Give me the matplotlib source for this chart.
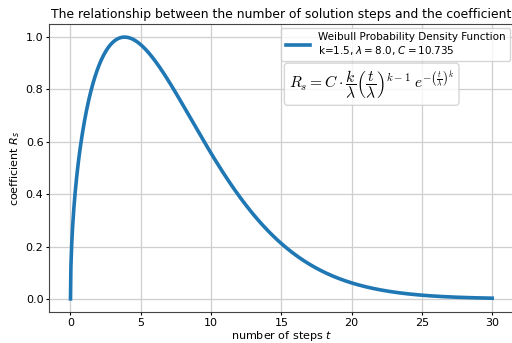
import numpy as np
import matplotlib
matplotlib.use("Agg")
import matplotlib.pyplot as plt

# Weibull parameters shown in the legend
k = 1.5
lam = 8.0
C = 10.735
t_start, t_end = 0, 30

t = np.linspace(t_start, t_end, 1000)
R = C * (k / lam) * (t / lam) ** (k - 1) * np.exp(-(t / lam) ** k)

fig = plt.figure(figsize=(5.12, 3.43), dpi=100)
ax = fig.add_axes([0.0965, 0.0904, 0.906, 0.8396])

ax.plot(t, R, lw=2.6, color="#1f77b4",
        label="Weibull Probability Density Function\nk=1.5, $\\lambda=8.0$, $C=10.735$")
ax.set_title("The relationship between the number of solution steps and the coefficient",
             fontsize=8.9, pad=4)
ax.set_xlabel("number of steps $t$", fontsize=8, labelpad=1)
ax.set_ylabel("coefficient $R_s$", fontsize=8, labelpad=3)
ax.tick_params(labelsize=8, length=2.5, pad=1.8)
ax.grid(True, color="#cfcfcf", lw=0.9)
for s in ax.spines.values():
    s.set_color("#444444")
ax.legend(loc="upper right", fontsize=7.5, borderaxespad=0.35, handlelength=2.3)

ax.text(0.5166, 0.848,
        r"$R_s = C \cdot \dfrac{k}{\lambda}\left(\dfrac{t}{\lambda}\right)^{k-1}\;e^{-\left(\frac{t}{\lambda}\right)^k}$",
        transform=ax.transAxes, fontsize=11.2, ha="left", va="top", math_fontfamily="cm",
        bbox=dict(boxstyle="round,pad=0.3,rounding_size=0.2", facecolor="white",
                  edgecolor="#cccccc", alpha=0.8))

fig.savefig("out.png", dpi=100)
